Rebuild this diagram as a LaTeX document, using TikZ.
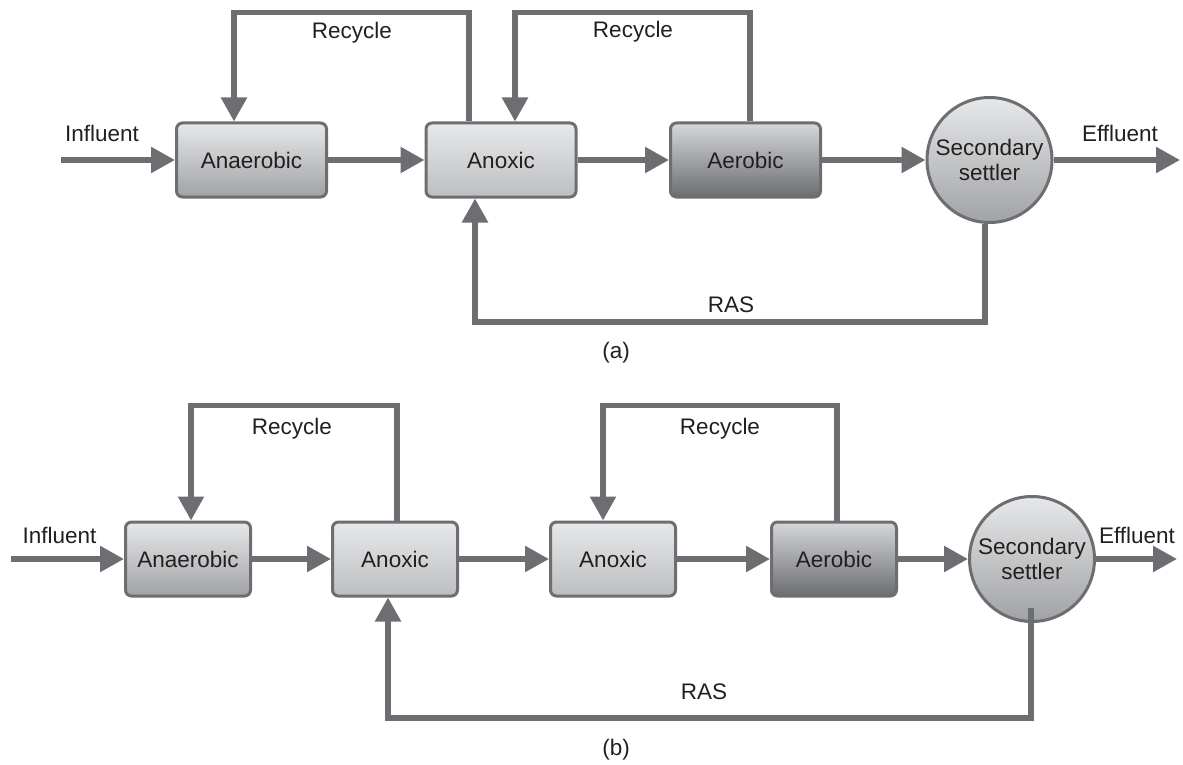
\documentclass[tikz,border=0pt]{standalone}
\usepackage{fontspec}
\setmainfont{Liberation Sans}
\usepackage{tikz}
\usetikzlibrary{arrows.meta}
\definecolor{flowgray}{RGB}{109,110,113}
\definecolor{ink}{RGB}{35,31,32}
\definecolor{light}{RGB}{231,232,233}
\definecolor{mid}{RGB}{160,162,165}
\definecolor{pale}{RGB}{188,190,192}
\definecolor{darktop}{RGB}{214,215,217}
\definecolor{darkbot}{RGB}{108,109,112}

\begin{document}
\begin{tikzpicture}[x=1pt, y=-1pt,
    font=\fontsize{22.5}{25}\selectfont, text=ink,
    tank/.style={draw=flowgray, line width=3pt, rounded corners=6pt, inner sep=0pt, minimum height=74pt},
    anaer/.style={tank, top color=light, bottom color=mid},
    anox/.style={tank, top color=light, bottom color=pale},
    aer/.style={tank, top color=darktop, bottom color=darkbot},
    settler/.style={circle, draw=flowgray, line width=3pt, inner sep=0pt, minimum size=125pt,
        top color=light, bottom color=mid, align=center},
    flow/.style={draw=flowgray, line width=5.5pt, -{Triangle[length=24pt, width=25pt]}}]

    \useasboundingbox (0,0) rectangle (1183,765);

    % (a)
    \node[anaer, minimum width=150pt] (anaA) at (251.5,160) {Anaerobic};
    \node[anox, minimum width=150pt] (anoxA) at (501,160) {Anoxic};
    \node[aer, minimum width=150pt] (aerA) at (745.5,160) {Aerobic};
    \node[settler] (setA) at (989.5,160) {Secondary\\settler};
    \coordinate (inA) at (61,160);
    \coordinate (outA) at (1180,160);

    \draw[flow] (inA) -- (anaA);
    \draw[flow] (anaA) -- (anoxA);
    \draw[flow] (anoxA) -- (aerA);
    \draw[flow] (aerA) -- (setA);
    \draw[flow] (setA) -- (outA);
    \draw[flow] ([xshift=-32pt]anoxA.north) -- ++(0,-109) -| ([xshift=-17.5pt]anaA.north);
    \draw[flow] ([xshift=4.5pt]aerA.north) -- ++(0,-109) -| ([xshift=14pt]anoxA.north);
    \draw[flow] ([xshift=-4.5pt]setA.south) -- ++(0,98) -| ([xshift=-26pt]anoxA.south);

    \node (inflA) at (102,133) {Influent};
    \node (efflA) at (1120,133) {Effluent};
    \node (recyA1) at (352,33) {Recycle};
    \node (recyA2) at (633,32) {Recycle};
    \node (rasA) at (731,305) {RAS};
    \node (capA) at (616,353) {(a)};

    % (b)
    \node[anaer, minimum width=125pt] (anaB) at (188,559) {Anaerobic};
    \node[anox, minimum width=125pt] (anoxB) at (395,559) {Anoxic};
    \node[anox, minimum width=125pt] (anoxC) at (613,559) {Anoxic};
    \node[aer, minimum width=125pt] (aerB) at (834,559) {Aerobic};
    \node[settler] (setB) at (1032,559) {Secondary\\settler};
    \coordinate (inB) at (11,559);
    \coordinate (outB) at (1177,559);
    \coordinate (rasB) at (1031,608);

    \draw[flow] (inB) -- (anaB);
    \draw[flow] (anaB) -- (anoxB);
    \draw[flow] (anoxB) -- (anoxC);
    \draw[flow] (anoxC) -- (aerB);
    \draw[flow] (aerB) -- (setB);
    \draw[flow] (setB) -- (outB);
    \draw[flow] ([xshift=2pt]anoxB.north) -- ++(0,-115) -| ([xshift=3pt]anaB.north);
    \draw[flow] ([xshift=3pt]aerB.north) -- ++(0,-115) -| ([xshift=-10pt]anoxC.north);
    \draw[flow] (rasB) -- ++(0,110) -| ([xshift=-7pt]anoxB.south);

    \node (inflB) at (59.5,535) {Influent};
    \node (efflB) at (1137,535) {Effluent};
    \node (recyB1) at (292,429) {Recycle};
    \node (recyB2) at (720,429) {Recycle};
    \node (rasBl) at (704,692) {RAS};
    \node (capB) at (616,750) {(b)};

\end{tikzpicture}
\end{document}
